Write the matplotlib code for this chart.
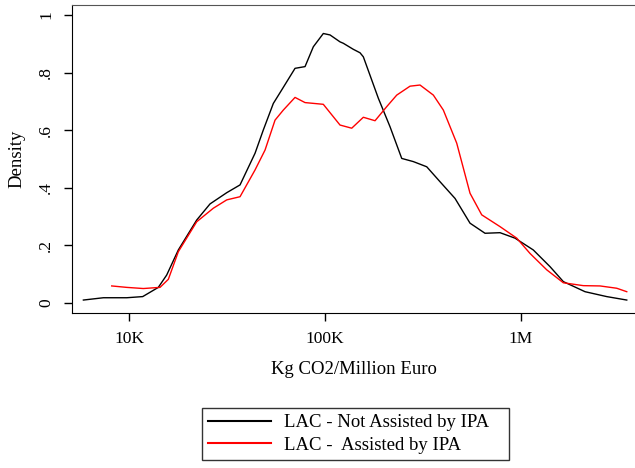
import matplotlib
matplotlib.use("Agg")
import matplotlib.pyplot as plt

plt.rcParams['font.family'] = ['Liberation Serif', 'DejaVu Serif']

# kernel density, not assisted (black)
x_not = [5850, 7400, 9735, 11745, 14107, 15570, 17846, 22148, 25902, 31518, 36844,
         43950, 48443, 54476, 60128, 70300, 79070, 87170, 98010, 106050, 119240,
         124000, 139450, 142270, 150880, 156840, 187090, 214620, 246230, 282140,
         330290, 386150, 460580, 549280, 655110, 781530, 932050, 1155000, 1406000,
         1643800, 2121000, 2736000, 3463000]
y_not = [0.010, 0.018, 0.018, 0.022, 0.054, 0.097, 0.184, 0.288, 0.344, 0.383, 0.410,
         0.520, 0.601, 0.693, 0.740, 0.815, 0.821, 0.890, 0.936, 0.931, 0.907,
         0.902, 0.881, 0.878, 0.869, 0.855, 0.711, 0.612, 0.502, 0.491,
         0.473, 0.421, 0.363, 0.277, 0.242, 0.244, 0.225, 0.184, 0.126,
         0.074, 0.039, 0.022, 0.010]

# kernel density, assisted (red)
x_ass = [8160, 9735, 11830, 14390, 15870, 17846, 22148, 26920, 31518, 36844, 43950,
         49420, 55580, 61260, 70300, 79070, 98010, 119240, 136840, 156840, 179940,
         206480, 232190, 271420, 305260, 357000, 401450, 469810, 549280, 630190,
         781530, 951000, 1111000, 1352500, 1643800, 2079500, 2530000, 3078000, 3463000]
y_ass = [0.059, 0.054, 0.050, 0.054, 0.082, 0.178, 0.282, 0.329, 0.358, 0.369, 0.462,
         0.531, 0.635, 0.670, 0.714, 0.696, 0.690, 0.618, 0.607, 0.645, 0.633,
         0.682, 0.722, 0.753, 0.757, 0.722, 0.670, 0.555, 0.381, 0.306,
         0.265, 0.225, 0.172, 0.115, 0.070, 0.060, 0.059, 0.051, 0.039]

y_ticks = [0, 0.2, 0.4, 0.6, 0.8, 1]
y_labels = ["0", ".2", ".4", ".6", ".8", "1"]
x_ticks = [1e4, 1e5, 1e6]
x_labels = ["10K", "100K", "1M"]

fig = plt.figure(figsize=(6.35, 4.68), dpi=100)
ax = fig.add_axes([0.1134, 0.3312, 0.8866, 0.6581])

ax.plot(x_not, y_not, color='black', lw=1.0, label='LAC - Not Assisted by IPA')
ax.plot(x_ass, y_ass, color='red', lw=1.0, label='LAC -  Assisted by IPA')

ax.set_xscale('log')
ax.set_xlim(5118, 3.815e6)
ax.set_ylim(-0.035, 1.035)
ax.set_xticks(x_ticks)
ax.set_xticklabels(x_labels, fontsize=12.5)
ax.minorticks_off()
ax.set_yticks(y_ticks)
ax.set_yticklabels(y_labels, fontsize=12.5, rotation=90, va='center')
ax.tick_params(direction='out', length=6, width=1, pad=7)

ax.set_xlabel("Kg CO2/Million Euro", fontsize=13.5, labelpad=10)
ax.set_ylabel("Density", fontsize=13.5, labelpad=9)

ax.spines['right'].set_visible(False)
ax.spines['top'].set_color('#555555')

# legend box spans roughly x 202..509, y 406..462 px
leg = fig.legend(loc='center', mode='expand',
                 bbox_to_anchor=(202 / 635, (468 - 462) / 468, 307 / 635, 56 / 468),
                 fontsize=13.5, frameon=True, fancybox=False, edgecolor='black',
                 handlelength=3.4, handletextpad=0.7, borderpad=0.3, labelspacing=0.3,
                 borderaxespad=0)
leg.get_frame().set_linewidth(1.0)
for line in leg.get_lines():
    line.set_linewidth(1.5)

fig.savefig("out.png", dpi=100)
